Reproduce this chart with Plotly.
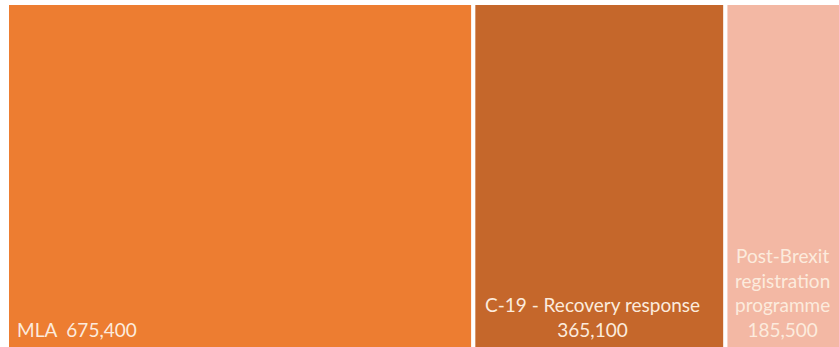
import plotly.graph_objects as go
from itertools import accumulate

categories = ["MLA", "C-19 - Recovery response", "Post-Brexit<br>registration<br>programme"]
values = [675400, 365100, 185500]
colors = ["#ED7D31", "#C5672B", "#F3B8A4"]
separators = ["  ", "<br>", "<br>"]
label_align = ["left", "center", "center"]

starts = [0] + list(accumulate(values))[:-1]
centers = [s + v / 2 for s, v in zip(starts, values)]

fig = go.Figure(
    go.Bar(
        x=centers,
        y=[1] * len(values),
        width=values,
        marker=dict(color=colors, line=dict(color="white", width=4)),
        hoverinfo="skip",
    )
)

annotations = []
for cat, val, sep, al, s, c in zip(categories, values, separators, label_align, starts, centers):
    annotations.append(
        dict(
            x=s if al == "left" else c,
            xref="x",
            xanchor=al,
            xshift=8 if al == "left" else -7,
            y=0,
            yref="paper",
            yanchor="bottom",
            yshift=4,
            text=f"{cat}{sep}{val:,}",
            showarrow=False,
            align="center",
            font=dict(family="Lato", size=19, color="#FCEBDD"),
        )
    )

fig.update_layout(
    width=839,
    height=347,
    margin=dict(l=7, r=0, t=3, b=0),
    paper_bgcolor="white",
    plot_bgcolor="white",
    showlegend=False,
    xaxis=dict(visible=False, range=[0, 1205000]),
    yaxis=dict(visible=False, range=[0.012, 1]),
    annotations=annotations,
)

fig.write_html("out.html")
